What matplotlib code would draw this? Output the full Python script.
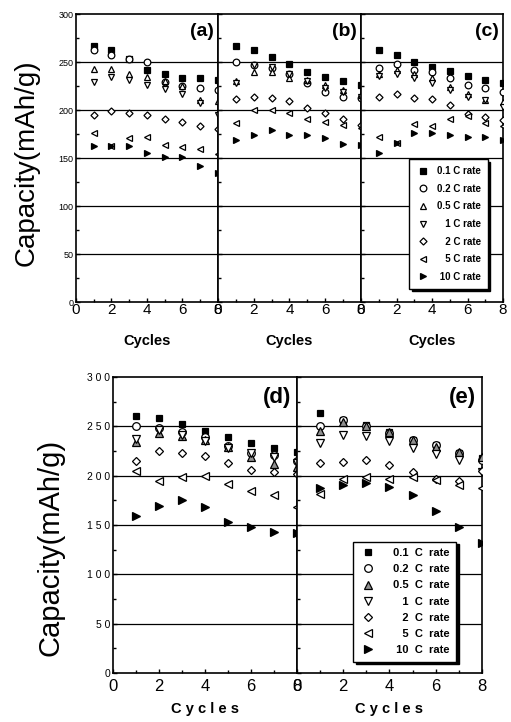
import numpy as np
import matplotlib
matplotlib.use("Agg")
import matplotlib.pyplot as plt
from matplotlib.ticker import MultipleLocator

plt.rcParams['font.family'] = ['Liberation Sans', 'DejaVu Sans']

cycles = [1, 2, 3, 4, 5, 6, 7, 8]
rates = ["0.1 C rate", "0.2 C rate", "0.5 C rate", "   1 C rate", "   2 C rate", "   5 C rate", " 10 C rate"]

# panel (a)
a_01 = [267, 263, 253, 242, 237, 233, 233, 231]
a_02 = [262, 257, 253, 250, 229, 225, 223, 221]
a_05 = [243, 243, 238, 234, 230, 225, 210, 209]
a_1 = [229, 234, 231, 226, 222, 217, 207, 195]
a_2 = [195, 199, 197, 195, 191, 187, 183, 180]
a_5 = [176, 163, 171, 172, 164, 161, 159, 154]
a_10 = [163, 163, 162, 155, 151, 151, 142, 134]

# panel (b)
b_01 = [267, 262, 255, 248, 240, 234, 230, 226]
b_02 = [250, 247, 244, 237, 228, 219, 214, 212]
b_05 = [230, 240, 240, 233, 231, 226, 221, 216]
b_1 = [228, 247, 245, 237, 230, 223, 219, 214]
b_2 = [211, 214, 212, 209, 202, 197, 191, 184]
b_5 = [186, 200, 200, 197, 191, 188, 184, 181]
b_10 = [169, 174, 179, 174, 174, 171, 165, 164]

# panel (c)
c_01 = [263, 257, 250, 245, 241, 235, 231, 228]
c_02 = [244, 248, 242, 240, 233, 226, 223, 219]
c_05 = [237, 242, 238, 233, 224, 217, 210, 208]
c_1 = [235, 238, 233, 228, 221, 214, 210, 203]
c_2 = [214, 217, 213, 211, 205, 196, 193, 190]
c_5 = [172, 166, 185, 183, 191, 194, 186, 183]
c_10 = [155, 166, 176, 176, 174, 172, 172, 169]

# panel (d)
d_01 = [260, 258, 252, 245, 239, 233, 228, 224]
d_02 = [250, 248, 244, 239, 230, 223, 221, 215]
d_05 = [234, 243, 240, 236, 229, 219, 212, 209]
d_1 = [237, 246, 241, 235, 228, 223, 219, 213]
d_2 = [215, 225, 223, 220, 213, 206, 204, 202]
d_5 = [205, 195, 199, 200, 192, 184, 180, 168]
d_10 = [159, 169, 175, 168, 153, 148, 143, 142]

# panel (e)
e_01 = [263, 256, 251, 244, 236, 231, 223, 218]
e_02 = [250, 256, 250, 243, 236, 231, 223, 216]
e_05 = [245, 254, 250, 244, 236, 229, 224, 219]
e_1 = [233, 241, 240, 235, 228, 222, 216, 204]
e_2 = [213, 214, 216, 211, 204, 197, 195, 205]
e_5 = [181, 197, 199, 197, 199, 196, 191, 187]
e_10 = [187, 191, 193, 188, 180, 164, 148, 132]

# marker styles per rate: (marker, facecolor)
def styles(tri_fill):
    return [("s", "black"), ("o", "white"), ("^", tri_fill), ("v", "white"),
            ("D", "white"), ("<", "white"), (">", "black")]


def panel(ax, series, tag, ms, tri_fill, tagsize, tagy):
    for (mk, fc), ys, lab in zip(styles(tri_fill), series, rates):
        s = ms * 0.75 if mk == "D" else ms
        if mk == "s":
            s = ms * 0.85
        ax.plot(cycles, ys, linestyle="none", marker=mk, ms=s, mfc=fc,
                mec="black", mew=0.9, label=lab, zorder=3)
    for g in [50, 100, 150, 200, 250]:
        ax.axhline(g, color="black", lw=0.9, zorder=1)
    ax.set_xlim(0, 8)
    ax.set_ylim(0, 300)
    ax.xaxis.set_major_locator(MultipleLocator(2))
    ax.xaxis.set_minor_locator(MultipleLocator(1))
    ax.yaxis.set_major_locator(MultipleLocator(50))
    ax.yaxis.set_minor_locator(MultipleLocator(25))
    ax.tick_params(which="both", direction="in", length=3, width=1)
    ax.tick_params(which="minor", length=2)
    for sp in ax.spines.values():
        sp.set_linewidth(1.2)
    ax.text(0.97, tagy, tag, transform=ax.transAxes, ha="right", va="center",
            fontsize=tagsize, fontweight="bold")


fig = plt.figure(figsize=(5.11, 7.22), dpi=100)

# top row
top_b, top_h = 0.5817, 0.3989
ax_a = fig.add_axes([0.1487, top_b, 0.2779, top_h])
ax_b = fig.add_axes([0.4266, top_b, 0.2798, top_h])
ax_c = fig.add_axes([0.7065, top_b, 0.2779, top_h])

panel(ax_a, [a_01, a_02, a_05, a_1, a_2, a_5, a_10], "(a)", 4.8, "white", 14, 0.94)
panel(ax_b, [b_01, b_02, b_05, b_1, b_2, b_5, b_10], "(b)", 4.8, "white", 14, 0.94)
panel(ax_c, [c_01, c_02, c_05, c_1, c_2, c_5, c_10], "(c)", 4.8, "white", 14, 0.94)

for ax in [ax_a, ax_b, ax_c]:
    ax.set_xticks([0, 2, 4, 6, 8])
    ax.set_xticklabels(["0", "2", "4", "6", "8"], fontsize=11)
    ax.tick_params(axis="x", pad=1)
    ax.set_xlabel("Cycles", fontsize=10.5, fontweight="bold", labelpad=12)
ax_a.set_yticks([0, 50, 100, 150, 200, 250, 300])
ax_a.set_yticklabels(["0", "50", "100", "150", "200", "250", "300"], fontsize=6.5)
ax_a.tick_params(axis="y", pad=2)
ax_b.set_yticklabels([])
ax_c.set_yticklabels([])

leg = ax_c.legend(loc="lower right", bbox_to_anchor=(0.925, 0.03), frameon=True,
                  fancybox=False, edgecolor="black", framealpha=1,
                  shadow={"color": "black", "alpha": 1},
                  prop={"size": 7, "weight": "bold"}, labelspacing=0.78,
                  handlelength=1.4, handletextpad=0.7, borderpad=0.7)
leg.get_frame().set_linewidth(1.0)

fig.text(0.052, 0.774, "Capacity(mAh/g)", rotation=90, fontsize=20,
         ha="center", va="center")

# bottom row
bot_b, bot_h = 0.0679, 0.41
ax_d = fig.add_axes([0.2211, bot_b, 0.3601, bot_h])
ax_e = fig.add_axes([0.5812, bot_b, 0.3620, bot_h])

panel(ax_d, [d_01, d_02, d_05, d_1, d_2, d_5, d_10], "(d)", 5.5, "#909090", 16, 0.93)
panel(ax_e, [e_01, e_02, e_05, e_1, e_2, e_5, e_10], "(e)", 5.5, "#909090", 16, 0.93)

for ax in [ax_d, ax_e]:
    ax.set_xticks([0, 2, 4, 6, 8])
    ax.set_xticklabels(["0", "2", "4", "6", "8"], fontsize=12)
    ax.tick_params(axis="x", pad=4)
    ax.set_xlabel("C y c l e s", fontsize=10.5, fontweight="bold", labelpad=6)
ax_d.set_yticks([0, 50, 100, 150, 200, 250, 300])
ax_d.set_yticklabels(["0", "5 0", "1 0 0", "1 5 0", "2 0 0", "2 5 0", "3 0 0"], fontsize=7.5)
ax_d.tick_params(axis="y", pad=2)
ax_e.set_yticklabels([])

bot_labels = ["0.1  C  rate", "0.2  C  rate", "0.5  C  rate", "   1  C  rate",
              "   2  C  rate", "   5  C  rate", " 10  C  rate"]
h, _ = ax_e.get_legend_handles_labels()
leg2 = ax_e.legend(h, bot_labels, loc="lower right", bbox_to_anchor=(0.89, 0.02),
                   frameon=True, fancybox=False, edgecolor="black", framealpha=1,
                   shadow={"color": "black", "alpha": 1},
                   prop={"size": 8, "weight": "bold"}, labelspacing=0.55,
                   handlelength=1.6, handletextpad=1.4, borderpad=0.6)
leg2.get_frame().set_linewidth(1.0)

fig.text(0.098, 0.242, "Capacity(mAh/g)", rotation=90, fontsize=21,
         ha="center", va="center")

fig.savefig("out.png", dpi=100)
